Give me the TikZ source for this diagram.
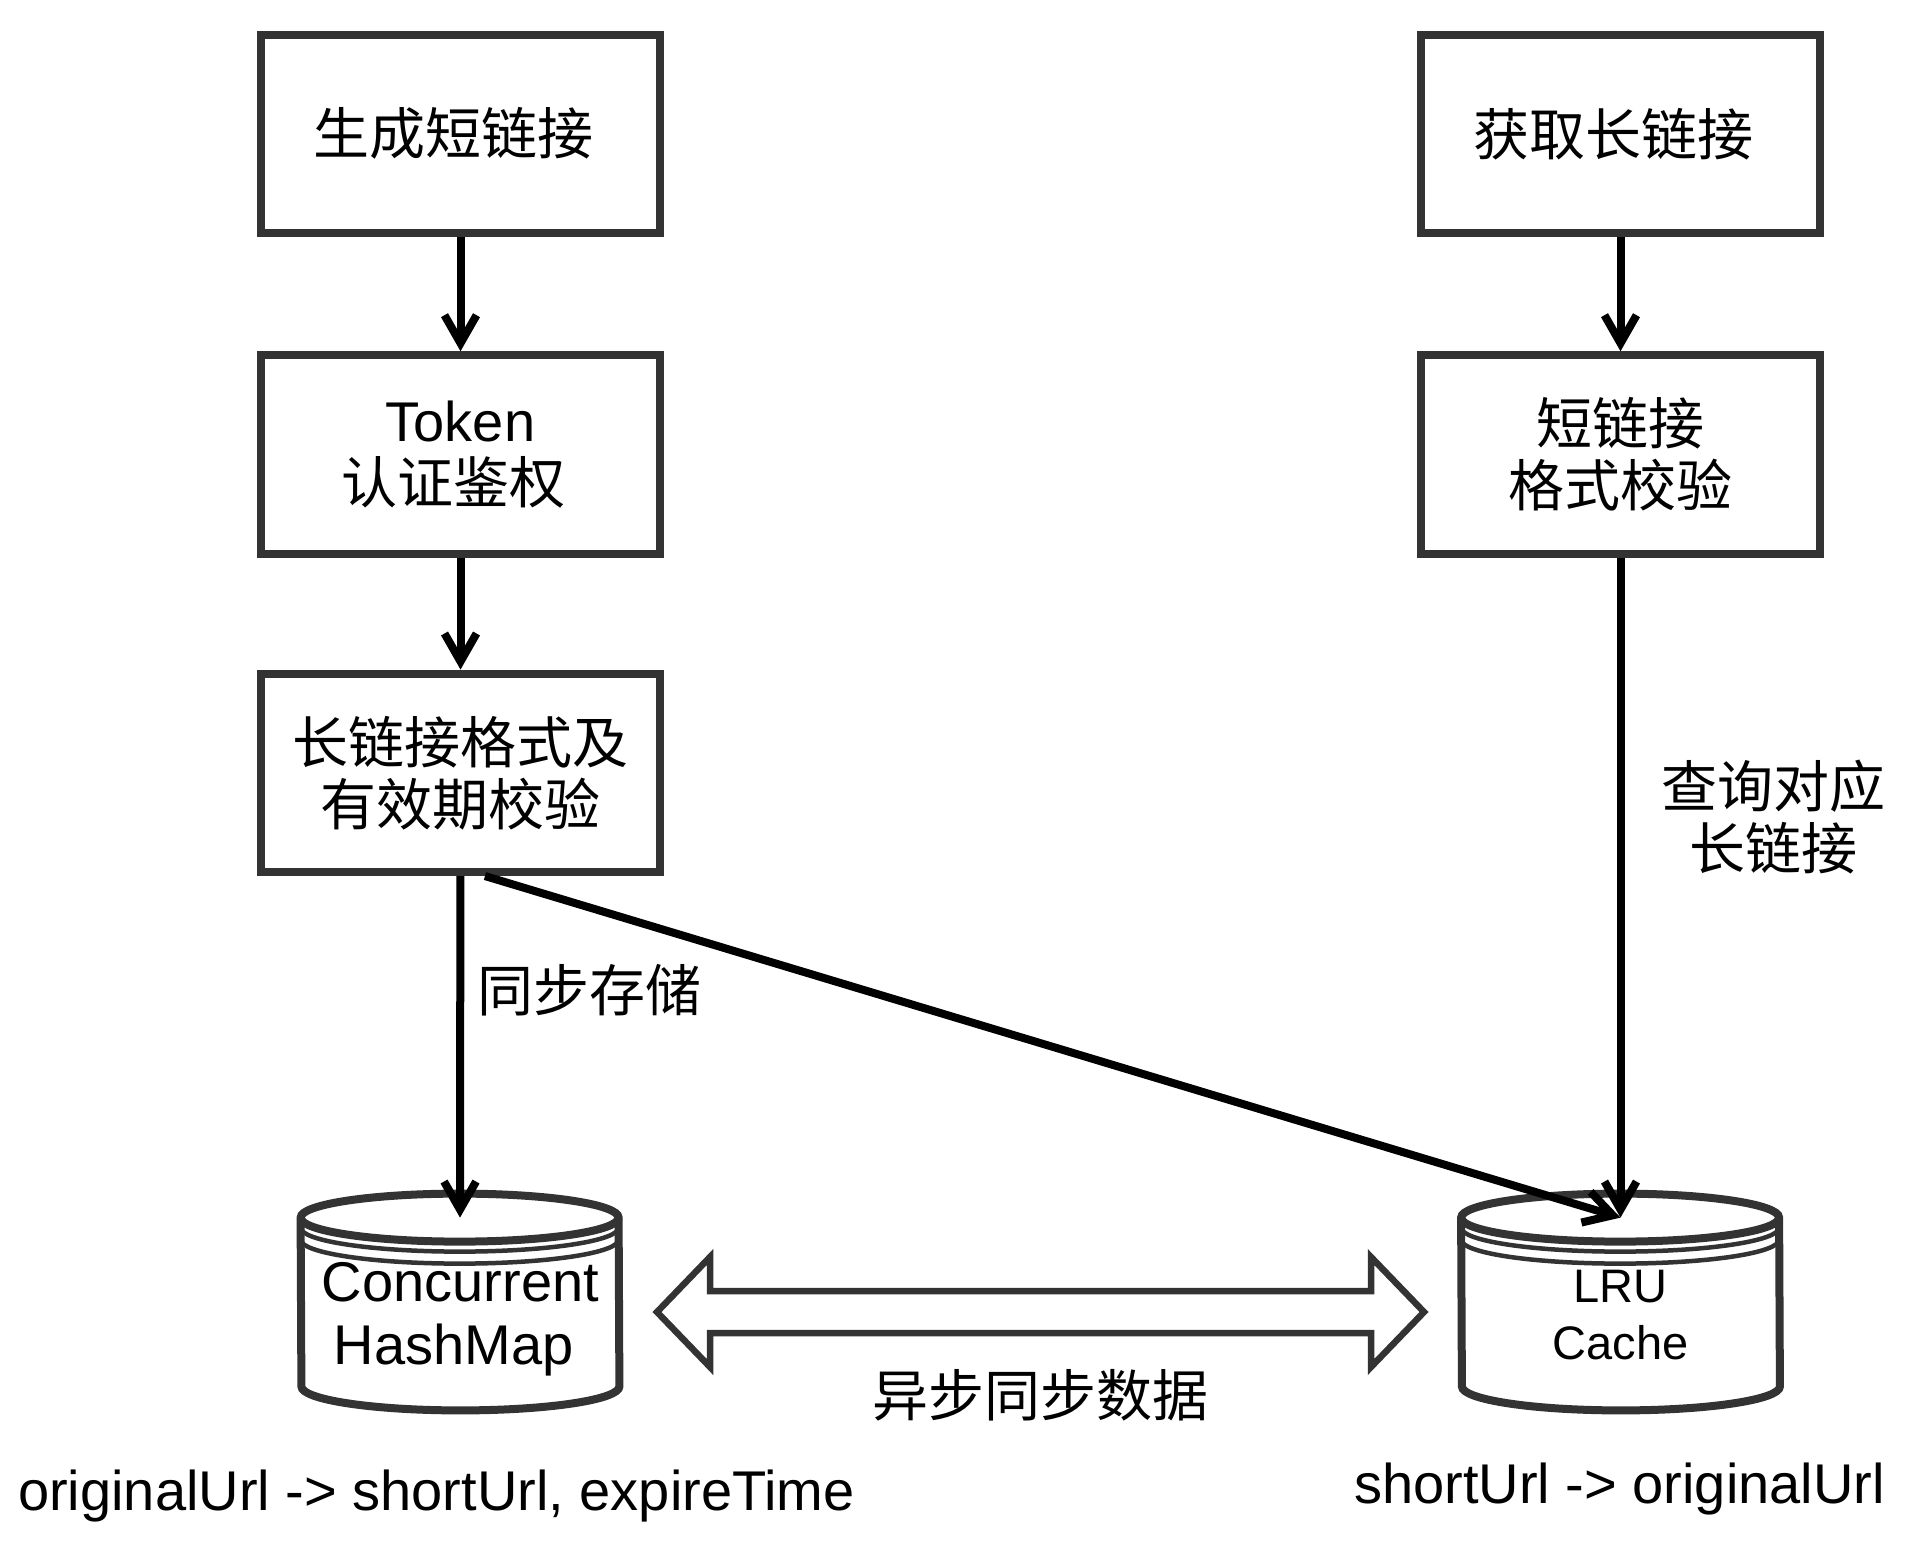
\documentclass[tikz,border=0pt]{standalone}
\usepackage{fontspec}
\setmainfont{Liberation Sans}
\newfontfamily\cjk{Noto Sans CJK SC}
\usetikzlibrary{positioning,calc,arrows.meta}
\definecolor{linegray}{HTML}{333333}

\tikzset{
  stepbox/.style={draw=linegray, line width=4pt, minimum width=199.5pt, minimum height=99.25pt,
    inner sep=0pt, align=center, font=\fontsize{28}{31}\selectfont},
  flow/.style={draw=black, line width=4pt, -{Straight Barb[length=14pt,width=16pt]}},
  store/.style={minimum width=159pt, minimum height=108pt, inner sep=0pt},
  storeline/.style={draw=linegray, line width=4pt},
  ring/.style={draw=linegray, line width=2.25pt},
  note/.style={align=center, inner sep=0pt, font=\fontsize{28}{31}\selectfont},
}

\begin{document}
\begin{tikzpicture}[x=0.5pt,y=-0.5pt]
\useasboundingbox (0,0) rectangle (1905,1547);

% write path
\node[stepbox] (gen) at (460.5,133.75) {\cjk 生成短链接\rule{7pt}{0pt}};
\node[stepbox] (auth) at (460.5,454.5) {Token\\\cjk 认证鉴权\rule{7pt}{0pt}};
\node[stepbox] (check) at (460.5,772.8) {\cjk 长链接格式及\\\cjk 有效期校验};

% read path
\node[stepbox] (get) at (1620.5,133.75) {\cjk 获取长链接\rule{7pt}{0pt}};
\node[stepbox] (fmt) at (1620.5,454.5) {\cjk 短链接\\\cjk 格式校验};

% stores
\node[store] (hm) at (460,1302) {};
\node[store] (lru) at (1620.5,1302) {};
\foreach \db in {hm,lru}{
  \draw[storeline, fill=white] ([yshift=-12pt]\db.north west)
    arc[start angle=180, end angle=0, x radius=79.5pt, y radius=12pt]
    -- ([yshift=12pt]\db.south east)
    arc[start angle=0, end angle=-180, x radius=79.5pt, y radius=12pt] -- cycle;
  \draw[storeline] ([yshift=-12pt]\db.north west)
    arc[start angle=180, end angle=360, x radius=79.5pt, y radius=12pt];
  \foreach \k in {5,11}
    \draw[ring] ([yshift={-(12+\k)*1pt}]\db.north west)
      arc[start angle=180, end angle=360, x radius=79.5pt, y radius=12pt];
}
\coordinate (hmTop) at ([yshift=-12pt]hm.north);
\coordinate (lruTop) at ([yshift=-12pt]lru.north);
\node[note, font=\fontsize{28}{31.5}\selectfont] (hmName) at (460.5,1319.5) {Concurrent\\HashMap\rule{7pt}{0pt}};
\node[note, font=\fontsize{23.5}{28.5}\selectfont] (lruName) at (1620.5,1315) {LRU\\Cache};

% connectors
\draw[flow] (gen) -- (auth);
\draw[flow] (auth) -- (check);
\draw[flow] (check) -- (hmTop);
\draw[flow] ([xshift=12.25pt]check.south) -- (lruTop);
\draw[flow] (get) -- (fmt);
\draw[flow] (fmt) -- (lruTop);

% async sync arrow
\draw[storeline, line width=3.25pt] (657,1312) -- (710,1257) -- (710,1291) -- (1371,1291)
  -- (1371,1257) -- (1424,1312) -- (1371,1367) -- (1371,1333) -- (710,1333) -- (710,1367) -- cycle;

% labels
\node[note, anchor=west] (syncLbl) at (477,990) {\cjk 同步存储};
\node[note] (queryLbl) at (1773,817) {\cjk 查询对应\\\cjk 长链接};
\node[note] (asyncLbl) at (1040,1395) {\cjk 异步同步数据};
\node[note] (hmKey) at (436.5,1496) {originalUrl -> shortUrl, expireTime};
\node[note] (lruKey) at (1619.5,1489) {shortUrl -> originalUrl};
\end{tikzpicture}
\end{document}
